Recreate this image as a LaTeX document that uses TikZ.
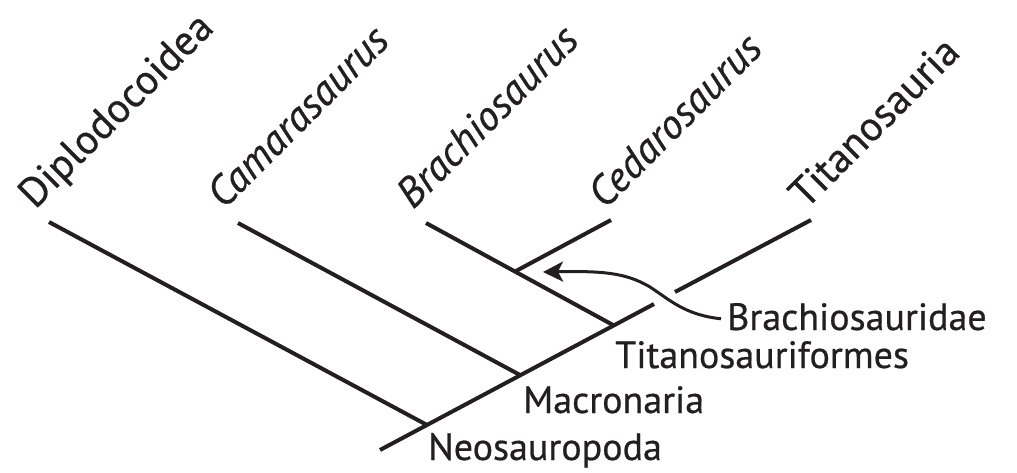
\documentclass[tikz,border=0pt]{standalone}
\usepackage{fontspec}
\setmainfont{PT Sans}[FakeBold=0.6,AutoFakeBold=0.6]
\usetikzlibrary{arrows.meta}
\definecolor{ink}{HTML}{231F20}
\begin{document}
\begin{tikzpicture}[x=1pt,y=-1pt,
  branch/.style={draw=ink,line width=4pt},
  taxon/.style={text=ink,inner sep=0pt},
  tiplabel/.style={taxon,rotate=45,anchor=base west,font=\fontsize{41.5}{44}\selectfont\bfseries},
  cladelabel/.style={taxon,anchor=base west,font=\fontsize{38}{40}\selectfont\bfseries},
  pointer/.style={draw=ink,line width=3pt,-{Stealth[length=20pt,width=20pt,inset=5pt]}}]
\useasboundingbox (0,0) rectangle (1017,472);

% branch points along the main stem and tips
\coordinate (root) at (380,450);
\coordinate (neo) at (427,425);
\coordinate (mac) at (520,375);
\coordinate (tif) at (613,325);
\coordinate (stemend) at (654,304);
\coordinate (titstart) at (675,292);
\coordinate (tittip) at (811,220);
\coordinate (diptip) at (49,222);
\coordinate (camtip) at (238,223);
\coordinate (bratip) at (426,223);
\coordinate (brach) at (516,271);
\coordinate (cedtip) at (611,220);
\coordinate (pointtip) at (543,272);

% tree
\draw[branch] (root) -- (stemend);
\draw[branch] (titstart) -- (tittip);
\draw[branch] (diptip) -- (neo);
\draw[branch] (camtip) -- (mac);
\draw[branch] (bratip) -- (tif);
\draw[branch] (brach) -- (cedtip);

% terminal taxa
\node[tiplabel] (dip) at (35,210) {Diplodocoidea};
\node[tiplabel] (cam) at (224,210) {\itshape Camarasaurus};
\node[tiplabel] (bra) at (413,210) {\itshape Brachiosaurus};
\node[tiplabel] (ced) at (605,210) {\itshape Cedarosaurus};
\node[tiplabel] (tit) at (806,210) {Titanosauria};

% clade names
\node[cladelabel] (brachidae) at (727,330) {Brachiosauridae};
\node[cladelabel] (tiform) at (615,368) {Titanosauriformes};
\node[cladelabel] (macro) at (523,413) {Macronaria};
\node[cladelabel] (neosaur) at (428,460) {Neosauropoda};

% pointer from Brachiosauridae to its node
\draw[pointer] ([xshift=-6pt,yshift=-2pt]brachidae.west) .. controls (685,315) and (670,300) .. (650,287)
  .. controls (625,272) and (600,271) .. (pointtip);
\end{tikzpicture}
\end{document}
